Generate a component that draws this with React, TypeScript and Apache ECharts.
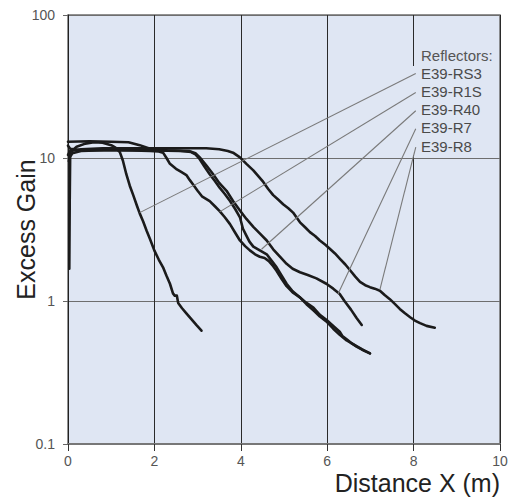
import React, { useEffect, useRef } from "react";
import * as echarts from "echarts";

const xTicks = [0, 2, 4, 6, 8, 10];
const yTicks = [0.1, 1, 10, 100];

const reflectorNames = ["E39-RS3", "E39-R1S", "E39-R40", "E39-R7", "E39-R8"];

const rs3: number[][] = [
  [0.02, 9.5], [0.06, 11.0], [0.2, 12.0], [0.4, 12.6], [0.6, 12.9], [0.8, 12.8], [1.0, 12.3],
  [1.1, 11.8], [1.2, 11.0], [1.27, 9.6], [1.35, 7.7], [1.43, 6.4], [1.51, 5.5], [1.6, 4.6],
  [1.66, 4.1], [1.74, 3.6], [1.82, 3.1], [1.9, 2.7], [2.0, 2.25], [2.1, 1.95], [2.2, 1.72],
  [2.28, 1.5], [2.36, 1.32], [2.43, 1.13], [2.47, 1.09], [2.52, 1.09], [2.55, 0.97], [2.64, 0.89],
  [2.74, 0.82], [2.85, 0.75], [2.97, 0.68], [3.09, 0.62],
];

const r1s: number[][] = [
  [0.0, 12.2], [0.05, 11.6], [0.3, 11.3], [0.8, 11.4], [1.5, 11.3], [1.9, 11.2], [2.1, 11.1],
  [2.2, 10.9], [2.28, 10.0], [2.36, 9.1], [2.5, 8.4], [2.62, 8.0], [2.74, 7.6], [2.82, 7.0],
  [2.9, 6.5], [3.0, 5.9], [3.1, 5.4], [3.28, 5.0], [3.4, 4.6], [3.51, 4.25], [3.63, 3.85],
  [3.75, 3.45], [3.87, 3.0], [3.98, 2.65], [4.1, 2.42], [4.21, 2.26], [4.33, 2.12], [4.44, 2.04],
  [4.55, 2.0], [4.65, 1.9], [4.75, 1.75], [4.83, 1.62], [4.95, 1.42], [5.06, 1.27], [5.2, 1.15],
  [5.37, 1.06], [5.52, 0.95], [5.68, 0.86], [5.83, 0.78], [5.98, 0.72], [6.14, 0.64], [6.29, 0.58],
  [6.45, 0.53], [6.6, 0.5], [6.8, 0.46], [6.99, 0.43],
];

const r40: number[][] = [
  [0.03, 1.68], [0.04, 5.0], [0.05, 10.2], [0.1, 10.8], [0.3, 11.2], [1.0, 11.4], [2.0, 11.3],
  [2.6, 11.2], [2.85, 11.0], [2.95, 10.6], [3.05, 9.8], [3.15, 8.8], [3.28, 7.7], [3.4, 6.9],
  [3.51, 6.2], [3.63, 5.6], [3.75, 5.0], [3.87, 4.4], [3.98, 3.85], [4.05, 3.2], [4.12, 2.9],
  [4.2, 2.6], [4.29, 2.4], [4.45, 2.25], [4.6, 2.12], [4.72, 1.9], [4.83, 1.72], [4.95, 1.5],
  [5.06, 1.32], [5.2, 1.17], [5.37, 1.06], [5.52, 0.97], [5.68, 0.9], [5.83, 0.8], [5.98, 0.74],
  [6.14, 0.67], [6.29, 0.61], [6.35, 0.57], [6.45, 0.54], [6.55, 0.51], [6.68, 0.48], [6.85, 0.45],
  [6.99, 0.43],
];

const r7: number[][] = [
  [0.0, 13.0], [0.5, 13.1], [1.0, 13.0], [1.4, 12.9], [1.66, 12.3], [1.9, 11.6], [2.3, 11.3],
  [2.8, 11.2], [2.95, 10.8], [3.05, 10.1], [3.2, 8.9], [3.36, 7.7], [3.5, 6.7], [3.67, 5.9],
  [3.82, 5.0], [3.98, 4.3], [4.13, 3.75], [4.29, 3.3], [4.45, 2.95], [4.6, 2.65], [4.75, 2.3],
  [4.9, 2.05], [5.06, 1.82], [5.2, 1.68], [5.37, 1.59], [5.55, 1.52], [5.75, 1.44], [5.98, 1.32],
  [6.14, 1.22], [6.29, 1.12], [6.4, 1.0], [6.55, 0.87], [6.68, 0.76], [6.8, 0.68],
];

const r8: number[][] = [
  [0.0, 10.5], [0.05, 11.2], [0.3, 11.5], [0.8, 11.7], [1.5, 11.7], [2.5, 11.7], [3.2, 11.7],
  [3.5, 11.5], [3.7, 11.2], [3.82, 10.9], [3.98, 10.1], [4.13, 9.1], [4.29, 8.2], [4.4, 7.5],
  [4.52, 6.8], [4.63, 6.1], [4.75, 5.5], [4.87, 5.1], [4.98, 4.75], [5.1, 4.45], [5.21, 4.15],
  [5.3, 3.8], [5.37, 3.55], [5.5, 3.25], [5.6, 3.03], [5.72, 2.85], [5.83, 2.65], [5.95, 2.48],
  [6.06, 2.32], [6.18, 2.15], [6.29, 1.98], [6.42, 1.8], [6.53, 1.64], [6.65, 1.48], [6.76, 1.36],
  [6.88, 1.29], [6.99, 1.25], [7.1, 1.22], [7.22, 1.18], [7.33, 1.1], [7.45, 1.03], [7.57, 0.95],
  [7.68, 0.88], [7.8, 0.82], [7.92, 0.77], [8.03, 0.73], [8.15, 0.7], [8.3, 0.67], [8.49, 0.65],
];

const curves = [rs3, r1s, r40, r7, r8];

// leader lines: from label block (at x = 8.05) to a point on each curve
const leaderStarts: number[][] = [[8.05, 39.0], [8.05, 28.7], [8.05, 21.4], [8.05, 16.0], [8.05, 11.9]];
const leaderEnds: number[][] = [[1.66, 4.15], [3.51, 4.2], [4.48, 2.3], [6.25, 1.12], [7.22, 1.2]];

const BG = "#dfe6f3";
const FONT = "'Liberation Sans', Arial, Helvetica, sans-serif";

export default function App() {
  const ref = useRef<HTMLDivElement>(null);
  useEffect(() => {
    if (!ref.current) return;
    const chart = echarts.init(ref.current, undefined, { renderer: "svg" });
    const labelTop = 55;
    const labelStep = 18.2;
    const graphicEls: any[] = [
      {
        type: "rect",
        z: 1,
        shape: { x: 410, y: 66, width: 87, height: 89 },
        style: { fill: BG },
        silent: true,
      },
      {
        type: "text",
        z: 5,
        x: 421,
        y: labelTop,
        style: { text: "Reflectors:", font: `15px ${FONT}`, fill: "#555", verticalAlign: "middle" },
      },
      ...reflectorNames.map((n, i) => ({
        type: "text",
        z: 5,
        x: 421,
        y: labelTop + labelStep * (i + 1),
        style: { text: n, font: `15px ${FONT}`, fill: "#4a4a4a", verticalAlign: "middle" },
      })),
    ];
    chart.setOption({
      animation: false,
      grid: {
        left: 68,
        top: 15,
        right: 11,
        bottom: 55,
        outerBoundsMode: "none",
        containLabel: false,
        show: true,
        backgroundColor: BG,
        borderColor: "#6e6e6e",
        borderWidth: 1.5,
      },
      xAxis: {
        type: "value",
        min: 0,
        max: 10,
        interval: 2,
        name: "Distance X (m)",
        nameLocation: "end",
        nameGap: 0,
        nameMoveOverlap: false,
        nameTextStyle: {
          fontFamily: FONT,
          fontSize: 25,
          lineHeight: 20,
          color: "#222",
          align: "right",
          verticalAlign: "top",
          padding: [29, 0, 0, 0],
        },
        axisLine: { show: true, lineStyle: { color: "#777", width: 2 } },
        axisTick: { show: true, length: 7, lineStyle: { color: "#333" } },
        axisLabel: { fontFamily: FONT, fontSize: 14, lineHeight: 14, color: "#555", margin: 10 },
        splitLine: { show: true, lineStyle: { color: "#2a2a2a", width: 1 } },
      },
      yAxis: {
        type: "log",
        logBase: 10,
        min: 0.1,
        max: 100,
        name: "Excess Gain",
        nameLocation: "middle",
        nameGap: 30,
        nameMoveOverlap: false,
        nameTextStyle: { fontFamily: FONT, fontSize: 25, color: "#222" },
        axisLine: { show: true, lineStyle: { color: "#222", width: 1 } },
        axisTick: { show: true, length: 5, lineStyle: { color: "#666" } },
        axisLabel: {
          fontFamily: FONT,
          fontSize: 14,
          color: "#555",
          margin: 13,
          formatter: (v: number) => {
            const t = yTicks.find((k) => Math.abs(k - v) / k < 1e-6);
            return t !== undefined ? String(t) : "";
          },
        },
        splitLine: { show: true, lineStyle: { color: "#6e6e6e", width: 1 } },
      },
      graphic: { elements: graphicEls },
      series: [
        ...curves.map((c, i) => ({
          type: "line",
          name: reflectorNames[i],
          data: c,
          showSymbol: false,
          symbol: "none",
          z: 3,
          lineStyle: { color: "#1b1b1b", width: 2.6, join: "round", cap: "round" },
        })),
        ...leaderStarts.map((s, i) => ({
          type: "line",
          data: [s, leaderEnds[i]],
          showSymbol: false,
          symbol: "none",
          z: 4,
          silent: true,
          lineStyle: { color: "#7a7a7a", width: 1.1 },
        })),
      ],
    });
    return () => chart.dispose();
  }, []);
  return (
    <div
      ref={ref}
      style={{ position: "absolute", left: 0, top: 0, width: 511, height: 499, background: "#fff" }}
    />
  );
}
